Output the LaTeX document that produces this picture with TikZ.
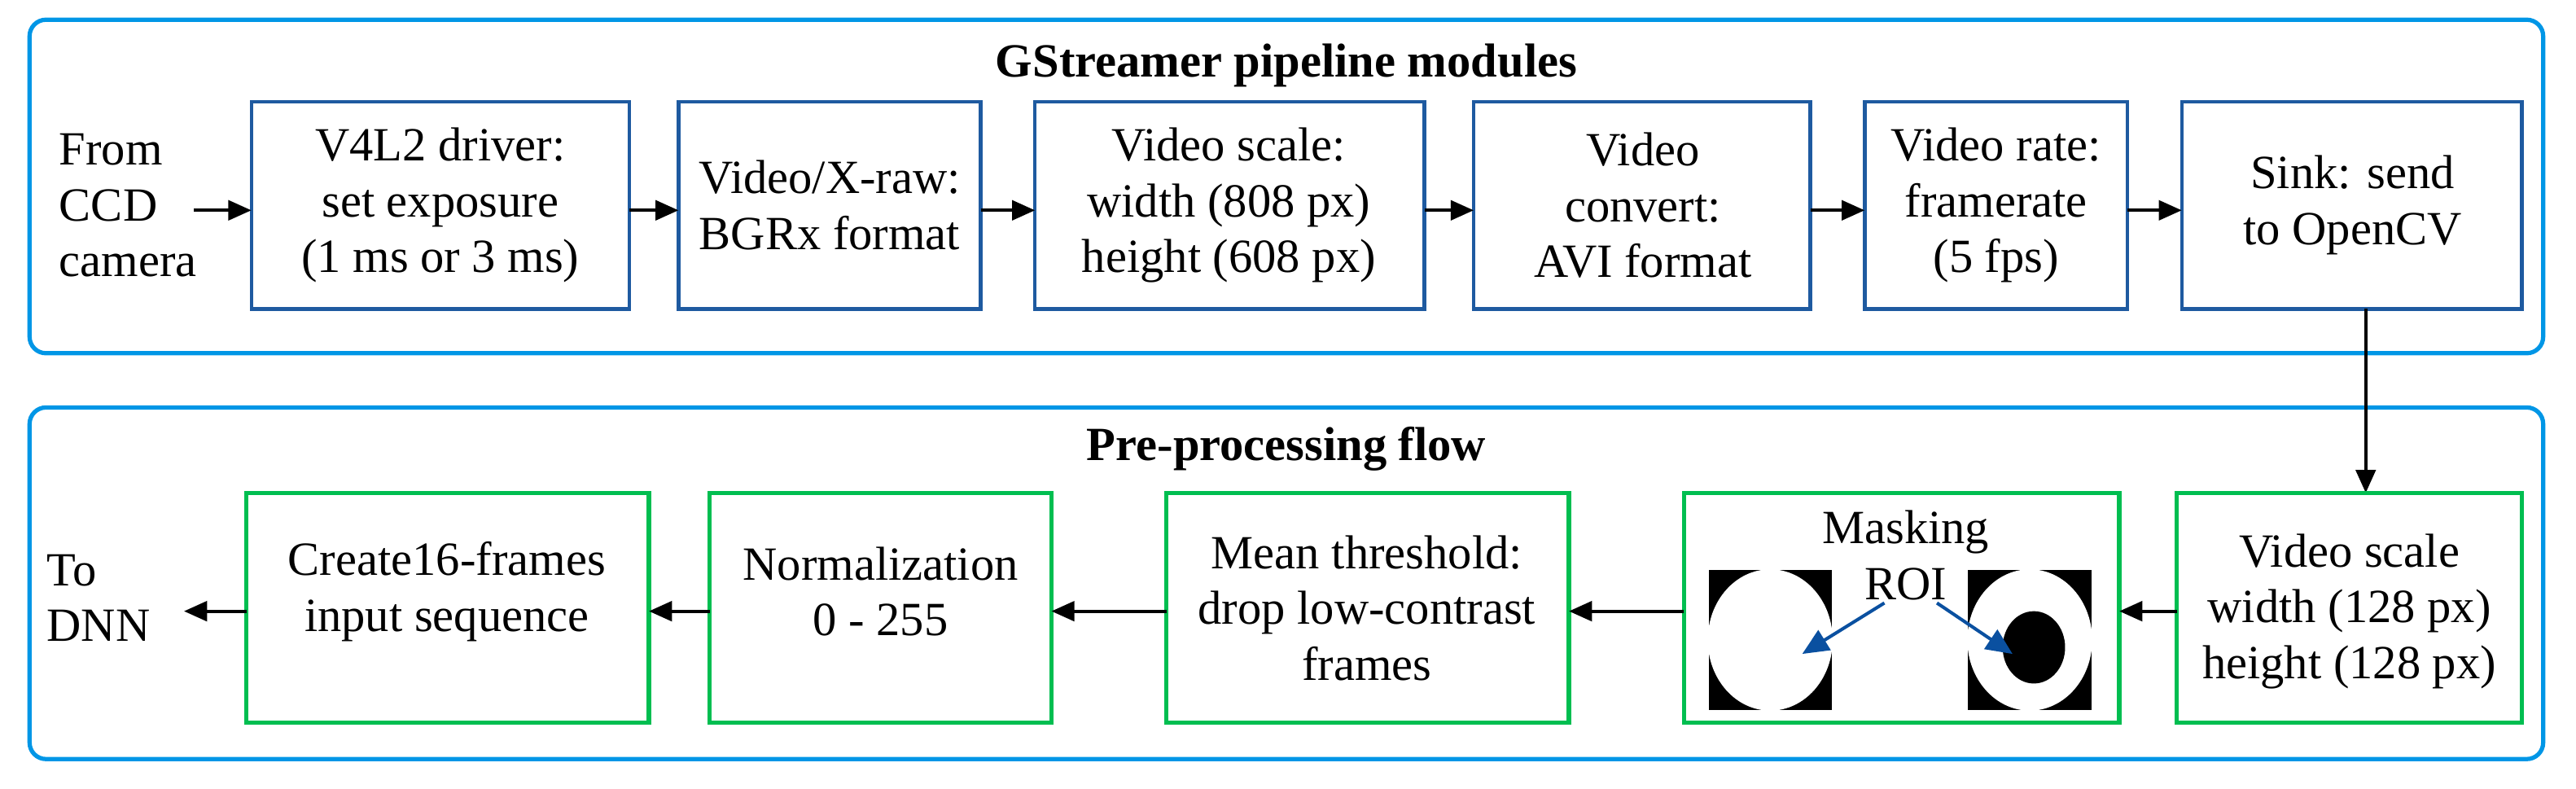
\documentclass[tikz,border=0pt]{standalone}
\usepackage{fontspec}
\setmainfont{Liberation Serif}
\usetikzlibrary{arrows.meta}
\definecolor{roi}{RGB}{10,80,160}
\definecolor{outerc}{RGB}{0,150,230}
\definecolor{bluec}{RGB}{30,90,160}
\definecolor{greenc}{RGB}{0,190,80}
\begin{document}
\begin{tikzpicture}[x=0.5pt,y=-0.5pt,
  txt/.style={font=\fontsize{14.5}{17}\selectfont,align=center},
  outer/.style={draw=outerc,line width=1.3pt,rounded corners=5pt},
  bbox/.style={draw=bluec,line width=1.1pt},
  gbox/.style={draw=greenc,line width=1.3pt},
  arr/.style={-{Triangle[length=7pt,width=6pt]},line width=1pt},
  roiarr/.style={-{Triangle[length=8pt,width=7pt]},line width=1pt,draw=roi,fill=roi}]
\useasboundingbox (0,0) rectangle (1568,480);
\draw[outer] (18,12) rectangle (1548,215);
\draw[outer] (18,248) rectangle (1548,462);
\node[txt,font=\fontsize{14.5}{17}\selectfont\bfseries] (t1) at (783,40) {GStreamer pipeline modules};
\node[txt,font=\fontsize{14.5}{17}\selectfont\bfseries] (t2) at (783,273) {Pre-processing flow};
% row 1
\node[txt,align=left] (from) at (78,125) {From\\CCD\\camera};
\draw[bbox] (153,62) rectangle (383,188); \node[txt] (a1) at (268,125) {V4L2 driver:\\set exposure\\(1 ms or 3 ms)};
\draw[bbox] (413,62) rectangle (597,188); \node[txt] (a2) at (505,125) {Video/X-raw:\\BGRx format};
\draw[bbox] (630,62) rectangle (867,188); \node[txt] (a3) at (748,125) {Video scale:\\width (808 px)\\height (608 px)};
\draw[bbox] (897,62) rectangle (1102,188); \node[txt] (a4) at (1000,125) {Video\\convert:\\AVI format};
\draw[bbox] (1135,62) rectangle (1295,188); \node[txt] (a5) at (1215,125) {Video rate:\\framerate\\(5 fps)};
\draw[bbox] (1328,62) rectangle (1535,188); \node[txt] (a6) at (1432,125) {Sink: send\\to OpenCV};
\coordinate (f1) at (118,128); \coordinate (g1) at (153,128);
\draw[arr] (f1) -- (g1);
\draw[arr] (383,128) -- (413,128);
\draw[arr] (597,128) -- (630,128);
\draw[arr] (867,128) -- (897,128);
\draw[arr] (1102,128) -- (1135,128);
\draw[arr] (1295,128) -- (1328,128);
\draw[arr] (1440,188) -- (1440,300);
% row 2
\draw[gbox] (1325,300) rectangle (1535,440); \node[txt] (b1) at (1430,372) {Video scale\\width (128 px)\\height (128 px)};
\draw[gbox] (1025,300) rectangle (1290,440);
\fill[black] (1040,347) rectangle (1115,432);
\fill[white] (1077.5,389.5) ellipse (38 and 43);
\fill[black] (1198,347) rectangle (1273,432);
\fill[white] (1235.5,389.5) ellipse (38 and 43);
\fill[black] (1238,394) ellipse (19 and 22);
\node[txt] (mk) at (1160,338) {Masking\\ROI};
\draw[roiarr] (1147,367) -- (1097,398);
\draw[roiarr] (1179,367) -- (1225,398);
\draw[gbox] (710,300) rectangle (955,440); \node[txt] (b3) at (832,370) {Mean threshold:\\drop low-contrast\\frames};
\draw[gbox] (432,300) rectangle (640,440); \node[txt] (b4) at (536,360) {Normalization\\0 - 255};
\draw[gbox] (150,300) rectangle (395,440); \node[txt] (b5) at (272,360) {Create16-frames\\input sequence};
\node[txt,align=left] (dnn) at (60,364) {To\\DNN};
\draw[arr] (1325,372) -- (1290,372);
\draw[arr] (1025,372) -- (955,372);
\draw[arr] (710,372) -- (640,372);
\draw[arr] (432,372) -- (395,372);
\coordinate (d1) at (112,372);
\draw[arr] (150,372) -- (d1);
\end{tikzpicture}
\end{document}
